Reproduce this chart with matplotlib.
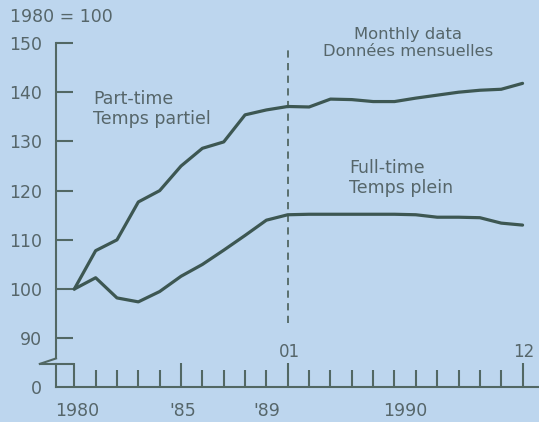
import matplotlib
matplotlib.use("Agg")
import matplotlib.pyplot as plt
import matplotlib.transforms as mtransforms

# ---- data ----
positions = list(range(22))  # 1980..1989 annual, then Jan..Dec 1990 monthly
part_time = [100.0, 107.8, 110.0, 117.7, 120.0, 125.0, 128.6, 129.9, 135.4, 136.4,
             137.1, 137.0, 138.6, 138.5, 138.1, 138.1, 138.8, 139.4, 140.0, 140.4, 140.6, 141.8]
full_time = [100.0, 102.3, 98.2, 97.4, 99.5, 102.6, 105.0, 107.9, 110.9, 114.0,
             115.1, 115.2, 115.2, 115.2, 115.2, 115.2, 115.1, 114.6, 114.6, 114.5, 113.4, 113.0]
ytick_vals = [90, 100, 110, 120, 130, 140, 150]
year_label_pos = [0.15, 5.1, 9, 15.5]
year_labels = ["1980", "'85", "'89", "1990"]
month_label_pos = [10, 21]
month_labels = ["01", "12"]
break_value = 80.1  # value where the "0" baseline sits on the broken axis

BG = "#bdd6ee"
LINE = "#3d5752"
AX = "#526864"
TXT = "#56666a"

plt.rcParams['font.family'] = ['DejaVu Sans']

fig = plt.figure(figsize=(5.39, 4.22), dpi=100, facecolor=BG)
ax = fig.add_axes([56/539, (422-387)/422, (539-56)/539, (387-43)/422])
ax.set_facecolor(BG)
ax.set_xlim(-0.857, 21.77)
ax.set_ylim(break_value, 150)

ax.plot(positions, part_time, color=LINE, lw=2.3, solid_capstyle='round',
        solid_joinstyle='round', zorder=3, clip_on=False)
ax.plot(positions, full_time, color=LINE, lw=2.3, solid_capstyle='round',
        solid_joinstyle='round', zorder=3, clip_on=False)

# dashed separator between annual and monthly data
ax.plot([10, 10], [93.2, 149.2], color=AX, lw=1.3, ls=(0, (4, 3)), zorder=2)

# spines
for s in ["top", "right"]:
    ax.spines[s].set_visible(False)
ax.spines["left"].set_color(AX)
ax.spines["bottom"].set_color(AX)
ax.spines["left"].set_linewidth(1.5)
ax.spines["bottom"].set_linewidth(1.5)
ax.spines["left"].set_bounds(85.9, 150)

# axis break symbol
tr = mtransforms.blended_transform_factory(ax.transAxes, ax.transData)
xa = 0.0
dx = 17/483
ax.plot([xa, xa - 0.95*dx], [85.9, 84.8], transform=tr, color=AX, lw=1.5, clip_on=False)
ax.plot([xa - 0.95*dx, xa + dx], [84.8, 84.8], transform=tr, color=AX, lw=1.5, clip_on=False)
ax.plot([xa, xa], [84.8, break_value], transform=tr, color=AX, lw=1.5, clip_on=False)

# y ticks
ax.set_yticks(ytick_vals + [break_value])
ax.set_yticklabels([str(v) for v in ytick_vals] + ["0"])
ax.tick_params(axis="y", direction="in", length=12, width=1.5, color=AX,
               labelsize=12.5, labelcolor=TXT, pad=10)
ax.yaxis.get_major_ticks()[-1].tick1line.set_visible(False)

# x ticks: tall at 1980, '85, 01, 12; short elsewhere
tall = [0, 5, 10, 21]
short = [p for p in positions if p not in tall]
ax.set_xticks(tall)
ax.set_xticklabels([""] * len(tall))
ax.set_xticks(short, minor=True)
ax.tick_params(axis="x", which="major", direction="in", length=17, width=1.5, color=AX)
ax.tick_params(axis="x", which="minor", direction="in", length=12, width=1.5, color=AX)

sec = ax.secondary_xaxis("bottom")
sec.set_xticks(year_label_pos)
sec.set_xticklabels(year_labels)
sec.tick_params(length=0, pad=11, labelsize=12.5, labelcolor=TXT)
sec.spines["bottom"].set_visible(False)

for p, lab in zip(month_label_pos, month_labels):
    ax.annotate(lab, xy=(p, 0), xycoords=("data", "axes fraction"),
                xytext=(1, 25), textcoords="offset points",
                ha="center", va="center", fontsize=12, color=TXT)

# texts
fig.text(10/539, 1 - 17/422, "1980 = 100", ha="left", va="center", fontsize=12.5, color=TXT)
fig.text(93/539, 1 - 109/422, "Part-time\nTemps partiel", ha="left", va="center",
         fontsize=12.5, color=TXT, linespacing=1.15)
fig.text(349/539, 1 - 178/422, "Full-time\nTemps plein", ha="left", va="center",
         fontsize=12.5, color=TXT, linespacing=1.15)
fig.text(408/539, 1 - 43/422, "Monthly data\nDonnées mensuelles", ha="center", va="center",
         fontsize=11.8, color=TXT, linespacing=1.15)

fig.savefig("out.png", dpi=100, facecolor=BG)
